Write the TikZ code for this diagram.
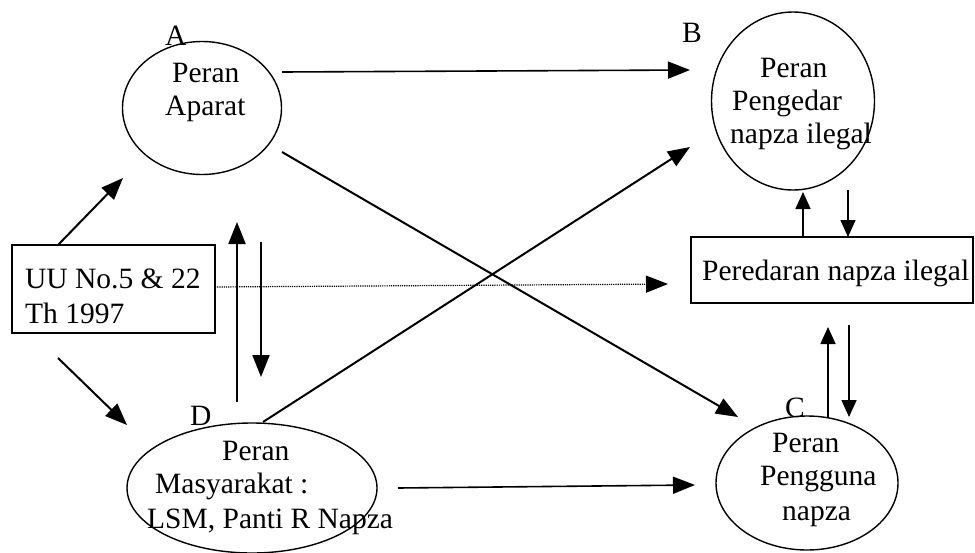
\documentclass[tikz,border=0pt]{standalone}
\usepackage{fontspec}
\setmainfont{Liberation Serif}
\usetikzlibrary{shapes.geometric,arrows.meta}
\begin{document}
\begin{tikzpicture}[x=1pt,y=-1pt,
  txt/.style={inner sep=0pt,anchor=base west,font=\fontsize{29.5}{34}\selectfont},
  oval/.style={draw,ellipse,line width=1.4pt,inner sep=0pt},
  boxx/.style={draw,line width=1.6pt},
  arr/.style={line width=2pt,-{Triangle[length=22pt,width=17pt]}},
  sarr/.style={line width=1.7pt,-{Triangle[length=17pt,width=15pt]}}]
\useasboundingbox (0,0) rectangle (975,552);
\clip (0,0) rectangle (975,552);
% shapes
\node[oval,minimum width=159pt,minimum height=133pt] (A) at (202,108) {};
\node[oval,minimum width=163pt,minimum height=178pt] (B) at (793,101) {};
\node[oval,minimum width=250pt,minimum height=130pt] (D) at (252,488) {};
\node[oval,minimum width=182pt,minimum height=134pt] (C) at (807,483) {};
\draw[boxx] (691,237) rectangle (973,303);
\draw[boxx] (12,245) rectangle (215,333);
% texts
\node[txt] (la) at (165,45) {A};
\node[txt] (lb) at (682,42) {B};
\node[txt] (ld) at (190,425) {D};
\node[txt] (lc) at (785,417) {C};
\node[txt] (a1) at (172,82) {Peran};
\node[txt] (a2) at (165,115) {Aparat};
\node[txt] (b1) at (760,77) {Peran};
\node[txt] (b2) at (732,110) {Pengedar};
\node[txt] (b3) at (730,143) {napza ilegal};
\node[txt] (p1) at (702,280) {Peredaran napza ilegal};
\node[txt] (u1) at (25,288) {UU No.5 \& 22};
\node[txt] (u2) at (25,323) {Th 1997};
\node[txt] (d1) at (222,460) {Peran};
\node[txt] (d2) at (155,493) {Masyarakat :};
\node[txt] (d3) at (147,528) {LSM, Panti R Napza};
\node[txt] (c1) at (772,452) {Peran};
\node[txt] (c2) at (760,485) {Pengguna};
\node[txt] (c3) at (782,520) {napza};
% connector ends
\coordinate (ab1) at (282,72);   \coordinate (ab2) at (690,70);
\coordinate (ac1) at (282,152);  \coordinate (ac2) at (738,417);
\coordinate (db1) at (263,422);  \coordinate (db2) at (690,147);
\coordinate (ua1) at (58,245);   \coordinate (ua2) at (123,178);
\coordinate (ud1) at (58,358);   \coordinate (ud2) at (127,425);
\coordinate (da1) at (237,402);  \coordinate (da2) at (237,222);
\coordinate (ad1) at (261,242);  \coordinate (ad2) at (261,377);
\coordinate (up1) at (215,287);  \coordinate (up2) at (668,284);
\coordinate (dc1) at (398,488);  \coordinate (dc2) at (695,485);
\coordinate (pb1) at (803,237);  \coordinate (pb2) at (803,192);
\coordinate (bp1) at (848,190);  \coordinate (bp2) at (848,237);
\coordinate (cp1) at (828,417);  \coordinate (cp2) at (828,327);
\coordinate (pc1) at (849,325);  \coordinate (pc2) at (849,417);
% connectors
\draw[arr,line width=1.6pt] (ab1) -- (ab2);
\draw[arr] (ac1) -- (ac2);
\draw[arr] (db1) -- (db2);
\draw[arr] (ua1) -- (ua2);
\draw[arr] (ud1) -- (ud2);
\draw[arr] (da1) -- (da2);
\draw[arr] (ad1) -- (ad2);
\draw[arr,line width=1.2pt,dash pattern=on 1.2pt off 1pt] (up1) -- (up2);
\draw[arr,line width=1.6pt] (dc1) -- (dc2);
\draw[sarr] (pb1) -- (pb2);
\draw[sarr,line width=1.3pt] (bp1) -- (bp2);
\draw[sarr] (cp1) -- (cp2);
\draw[sarr] (pc1) -- (pc2);
\end{tikzpicture}
\end{document}
